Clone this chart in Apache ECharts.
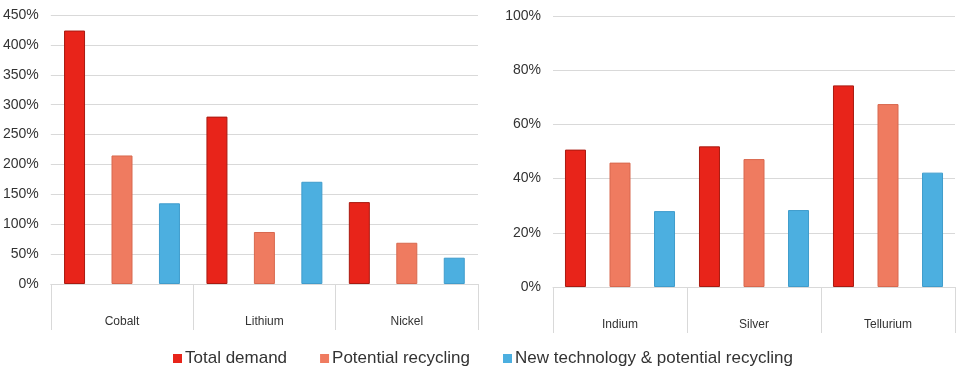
<!DOCTYPE html>
<html><head><meta charset="utf-8">
<script src="https://cdn.jsdelivr.net/npm/echarts@6/dist/echarts.min.js"></script>
<style>html,body{margin:0;padding:0;background:#fff}#c{width:960px;height:376px}</style>
</head><body><div id="c"></div>
<script>
const seriesNames = ['Total demand', 'Potential recycling', 'New technology & potential recycling'];
const leftCategories = ['Cobalt', 'Lithium', 'Nickel'];
const rightCategories = ['Indium', 'Silver', 'Tellurium'];
const leftTotal = [424, 280, 137];
const leftRecycling = [215, 87, 69];
const leftNewTech = [135, 171, 44];
const rightTotal = [50.7, 51.9, 74.4];
const rightRecycling = [45.9, 47.2, 67.5];
const rightNewTech = [28.0, 28.4, 42.2];

const colors = ['#e8241a', '#ef7b60', '#4cafe0'];
const borders = ['#a91a10', '#d8684e', '#3f9ccc'];
const font = 'Liberation Sans, Arial, sans-serif';

function bar(name, idx, data, axis) {
  return {
    name: name, type: 'bar', xAxisIndex: axis, yAxisIndex: axis, data: data,
    barWidth: 21, barGap: axis === 0 ? '126%' : '112%',
    itemStyle: { color: colors[idx], borderColor: borders[idx], borderWidth: 1 },
    emphasis: { disabled: true }
  };
}
function xAx(cats, gi) {
  return {
    type: 'category', gridIndex: gi, data: cats,
    axisLine: { lineStyle: { color: '#d9d9d9' } },
    axisTick: { show: true, length: 46, lineStyle: { color: '#d9d9d9' } },
    axisLabel: { color: '#333', fontSize: 12, fontFamily: font, margin: 32 }
  };
}
function yAx(max, interval, gi) {
  return {
    type: 'value', gridIndex: gi, min: 0, max: max, interval: interval,
    axisLine: { show: false }, axisTick: { show: false },
    splitLine: { lineStyle: { color: '#d9d9d9' } },
    axisLabel: { formatter: '{value}%', color: '#333', fontSize: 14, fontFamily: font, margin: 12 }
  };
}
const chart = echarts.init(document.getElementById('c'));
chart.setOption({
  animation: false,
  backgroundColor: '#fff',
  grid: [
    { left: 49, right: 482, top: 15, bottom: 92 },
    { left: 553, right: 5, top: 16, bottom: 89 }
  ],
  legend: {
    data: seriesNames, left: 168, top: 345, itemWidth: 9, itemHeight: 9, itemGap: 33,
    icon: 'rect',
    itemStyle: { borderWidth: 0 },
    textStyle: { color: '#333', fontSize: 17, fontFamily: font, padding: [0, 0, 0, -2] }
  },
  xAxis: [xAx(leftCategories, 0), xAx(rightCategories, 1)],
  yAxis: [yAx(450, 50, 0), yAx(100, 20, 1)],
  series: [
    bar(seriesNames[0], 0, leftTotal, 0),
    bar(seriesNames[1], 1, leftRecycling, 0),
    bar(seriesNames[2], 2, leftNewTech, 0),
    bar(seriesNames[0], 0, rightTotal, 1),
    bar(seriesNames[1], 1, rightRecycling, 1),
    bar(seriesNames[2], 2, rightNewTech, 1)
  ]
});
</script></body></html>
